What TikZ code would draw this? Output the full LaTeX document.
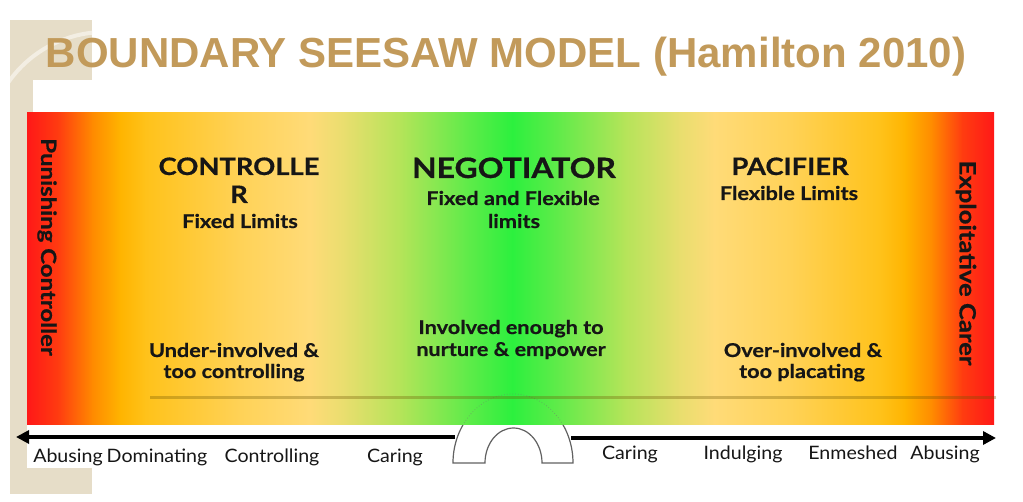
\documentclass[tikz,border=0pt]{standalone}
\usepackage{fontspec}
\setmainfont{Lato}
\newfontfamily\gillb{Lato}[FakeStretch=1.14, FakeBold=0.6]
\newfontfamily\gillr{Lato}[FakeStretch=1.06]
\newfontfamily\titlefont{Liberation Sans}
\usetikzlibrary{arrows.meta}
\definecolor{c0}{HTML}{FF1818}
\definecolor{c1}{HTML}{FF3C10}
\definecolor{c2}{HTML}{FF8A00}
\definecolor{c3}{HTML}{FFB400}
\definecolor{c4}{HTML}{FFC21A}
\definecolor{c5}{HTML}{FFD257}
\definecolor{c6}{HTML}{FFDB78}
\definecolor{c7}{HTML}{E8DE6E}
\definecolor{c8}{HTML}{B4E459}
\definecolor{c9}{HTML}{62EB4A}
\definecolor{c10}{HTML}{2CF03E}
\definecolor{titletan}{RGB}{194,154,90}
\definecolor{beige}{HTML}{E6DDC8}
\definecolor{beigelight}{HTML}{F3EEE3}
\definecolor{ink}{HTML}{161616}
\definecolor{plank}{RGB}{110,85,0}
\tikzset{
  head/.style={font=\gillb\bfseries\fontsize{24}{24}\selectfont, text=ink, anchor=base, inner sep=0pt},
  bighead/.style={font=\gillb\bfseries\fontsize{28}{28}\selectfont, text=ink, anchor=base, inner sep=0pt},
  sub/.style={font=\gillb\bfseries\fontsize{19}{19}\selectfont, text=ink, anchor=base, inner sep=0pt},
  side/.style={font=\gillb\bfseries\fontsize{21}{21}\selectfont, text=ink, inner sep=0pt, rotate=-90},
  scale label/.style={font=\gillr\fontsize{18.5}{18.5}\selectfont, text=ink, anchor=base, inner sep=0pt},
  axisarrow/.style={line width=3.3pt, -{Triangle[length=13pt,width=13pt]}},
  fulcrum/.style={draw=black!62, line width=1.2pt, fill=white},
}
\begin{document}
\begin{tikzpicture}[x=1pt,y=-1pt]
\useasboundingbox (0,0) rectangle (1023,502);
\fill[white] (0,0) rectangle (1023,502);
% slide decoration
\fill[beige] (10,20) rectangle (92,80);
\fill[beige] (10,20) rectangle (33,113);
\fill[beige] (10,113) rectangle (27,494);
\fill[beige] (10,468) rectangle (92,494);
\begin{scope}
\clip (10,20) rectangle (92,80) (10,20) rectangle (33,113);
\draw[beigelight, line width=4pt] (105,150) circle[radius=118];
\end{scope}
% title
\node[font=\titlefont\bfseries\fontsize{42}{42}\selectfont, text=titletan, anchor=base, inner sep=0pt] (title) at (506,68) {BOUNDARY SEESAW MODEL (Hamilton 2010)};
% fulcrum (drawn before the band so the band hides its top)
\draw[fulcrum] (453,463) arc[start angle=180, end angle=360, x radius=60, y radius=69]
  -- (542,463) arc[start angle=0, end angle=-180, x radius=28.5, y radius=35] -- cycle;
% gradient band
\foreach \xa/\ca/\xb/\cb in {27/c0/58/c1, 58/c1/92/c2, 92/c2/120/c3, 120/c3/145/c4, 145/c4/240/c5, 240/c5/310/c6, 310/c6/345/c7, 345/c7/400/c8, 400/c8/465/c9, 465/c9/512/c10, 512/c10/559/c9, 559/c9/624/c8, 624/c8/679/c7, 679/c7/714/c6, 714/c6/790/c5, 790/c5/880/c4, 880/c4/905/c3, 905/c3/932/c2, 932/c2/962/c1}
  {\fill[left color=\ca, right color=\cb] (\xa,113) rectangle (\xb+0.7,425);}
\fill[left color=c1, right color=c0] (962,113) rectangle (994,425);
% faint dotted continuation of the fulcrum inside the band
\begin{scope}
\clip (27,113) rectangle (994,425);
\draw[dotted, black!55, opacity=0.45, line width=0.8pt] (453,463) arc[start angle=180, end angle=360, x radius=60, y radius=69];
\end{scope}
% plank shadow line
\draw[plank, opacity=0.32, line width=3pt] (150,398) -- (996,398);
% side texts
\node[side] (punish) at (47,247) {Punishing Controller};
\node[side, font=\gillb\bfseries\fontsize{22.5}{22.5}\selectfont] (exploit) at (966,263) {Exploitative Carer};
% headings
\node[head] (ctrl1) at (239,175) {CONTROLLE};
\node[head] (ctrl2) at (239,203) {R};
\node[sub] (fixed) at (240,228) {Fixed Limits};
\node[bighead] (nego) at (514,178) {NEGOTIATOR};
\node[sub] (ff1) at (513,205) {Fixed and Flexible};
\node[sub] (ff2) at (514,228) {limits};
\node[head] (paci) at (790,175) {PACIFIER};
\node[sub] (flex) at (789,200) {Flexible Limits};
% descriptions
\node[sub] (under1) at (234,357) {Under-involved \&};
\node[sub] (under2) at (234,378) {too controlling};
\node[sub] (inv1) at (511,334) {Involved enough to};
\node[sub] (inv2) at (511,356) {nurture \& empower};
\node[sub] (over1) at (803,357) {Over-involved \&};
\node[sub] (over2) at (802,378) {too placating};
% axis arrows
\coordinate (fl) at (455,437);
\coordinate (lt) at (16,437);
\coordinate (fr) at (571,438);
\coordinate (rt) at (996,438);
\draw[axisarrow] (fl) -- (lt);
\draw[axisarrow] (fr) -- (rt);
% scale labels
\node[scale label] (l1) at (68,462) {Abusing};
\node[scale label] (l2) at (157,462) {Dominating};
\node[scale label] (l3) at (272,462) {Controlling};
\node[scale label] (l4) at (395,462) {Caring};
\node[scale label] (r1) at (630,460) {Caring};
\node[scale label] (r2) at (743,460) {Indulging};
\node[scale label] (r3) at (853,460) {Enmeshed};
\node[scale label] (r4) at (945,460) {Abusing};
\end{tikzpicture}
\end{document}
